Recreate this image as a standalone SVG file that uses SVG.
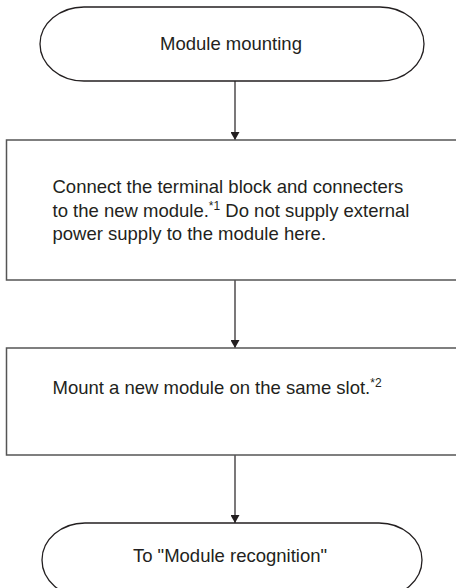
<svg xmlns="http://www.w3.org/2000/svg" width="456" height="588" viewBox="0 0 456 588">
<defs>
<style>
.t{font-family:"Liberation Sans",Arial,sans-serif;font-size:18.5px;fill:#231f20}
.s{font-family:"Liberation Sans",Arial,sans-serif;font-size:12px;fill:#231f20}
.term{fill:#fff;stroke:#231f20;stroke-width:1.3}
.box{fill:#fff;stroke:#555;stroke-width:1.5}
.ln{stroke:#231f20;stroke-width:1.2;fill:none}
</style>
<marker id="ah" markerWidth="8" markerHeight="9" refX="8" refY="4.5" orient="auto" markerUnits="userSpaceOnUse">
<path d="M0,0 L8,4.5 L0,9 Z" fill="#231f20"/>
</marker>
</defs>
<rect width="456" height="588" fill="#fff"/>
<g id="connectors">
<line class="ln" x1="235" y1="81" x2="235" y2="140" marker-end="url(#ah)"/>
<line class="ln" x1="235" y1="280" x2="235" y2="348" marker-end="url(#ah)"/>
<line class="ln" x1="235" y1="455" x2="235" y2="523" marker-end="url(#ah)"/>
</g>
<g id="start">
<path class="term" d="M84,7 H380 A44,37 0 0 1 380,81 H84 A44,37 0 0 1 84,7 Z"/>
<text class="t" x="231" y="50" text-anchor="middle">Module mounting</text>
</g>
<g id="step1">
<rect class="box" x="6.5" y="140" width="460" height="140"/>
<text class="t" x="52.5" y="193">Connect the terminal block and connecters</text>
<text class="t" x="52.5" y="216.5">to the new module.<tspan class="s" dy="-7">*1</tspan><tspan dy="7"> Do not supply external</tspan></text>
<text class="t" x="52.5" y="240">power supply to the module here.</text>
</g>
<g id="step2">
<rect class="box" x="6.5" y="348" width="460" height="107"/>
<text class="t" x="52.5" y="394">Mount a new module on the same slot.<tspan class="s" dy="-7">*2</tspan></text>
</g>
<g id="end">
<path class="term" d="M85,523 H379 A43,37 0 0 1 379,597 H85 A43,37 0 0 1 85,523 Z"/>
<text class="t" x="230" y="562" text-anchor="middle">To "Module recognition"</text>
</g>
</svg>
